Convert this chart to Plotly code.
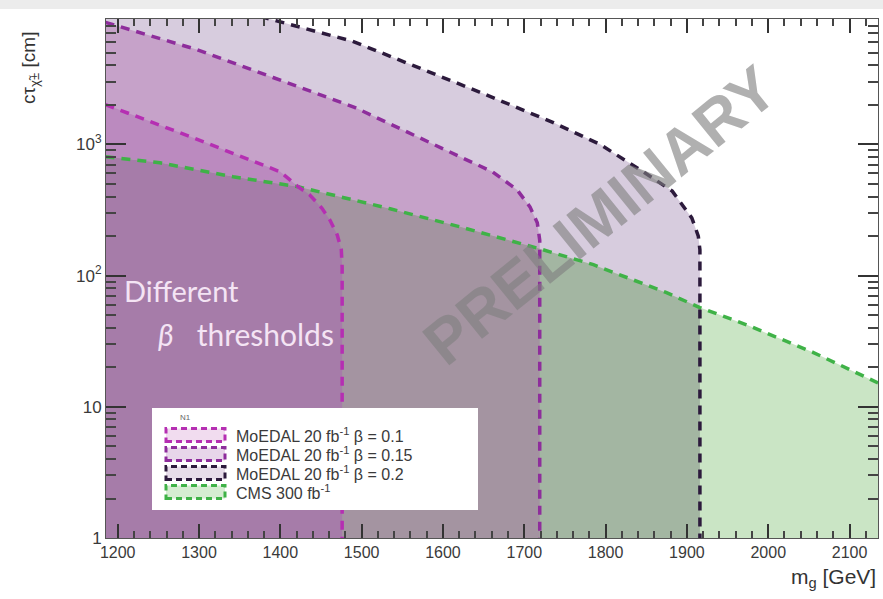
import math
import plotly.graph_objects as go

# ---------------- data ----------------
# MoEDAL beta = 0.2 (outer, dark)
m_b02 = [1185, 1402, 1424, 1489, 1645, 1735, 1793, 1846, 1882, 1906, 1914, 1916, 1916]
v_b02 = [19500, 8500, 7900, 6100, 2500, 1470, 1000, 620, 440, 275, 200, 157, 1]
# MoEDAL beta = 0.15 (middle, purple)
m_b015 = [1185, 1297, 1391, 1492, 1621, 1661, 1691, 1707, 1716, 1719, 1719]
v_b015 = [8500, 5280, 3230, 1905, 804, 617, 451, 334, 252, 186, 1]
# MoEDAL beta = 0.1 (inner, magenta)
m_b01 = [1185, 1289, 1400, 1422, 1436, 1451, 1461, 1470, 1475, 1476, 1476]
v_b01 = [2005, 1145, 617, 475, 412, 327, 265, 204, 157, 116, 1]
# CMS 300 fb-1 (green)
m_cms = [1185, 1252, 1342, 1422, 1473, 1535, 1621, 1719, 1785, 1875, 1916, 1974, 2055, 2135]
v_cms = [805, 723, 566, 475, 399, 323, 235, 160, 121, 74, 57, 42, 26, 15.2]

x_ticks = [1200, 1300, 1400, 1500, 1600, 1700, 1800, 1900, 2000, 2100]
y_ticks = [1, 10, 100, 1000]
y_ticktext = ["1", "10", "10<sup>2</sup>", "10<sup>3</sup>"]
legend_labels = ["MoEDAL 20 fb<sup>-1</sup> β = 0.1", "MoEDAL 20 fb<sup>-1</sup> β = 0.15",
                 "MoEDAL 20 fb<sup>-1</sup> β = 0.2", "CMS 300 fb<sup>-1</sup>"]

X_MIN, X_MAX = 1185.6, 2135
Y_LOG_MAX = 3.955
Y_BASE = 1

# ---------------- styles ----------------
C_LINE_01 = "#b52fb2"
C_LINE_015 = "#8e2d9c"
C_LINE_02 = "#2c1a3c"
C_LINE_CMS = "#3fb247"

F_A = "#d7ccde"      # beta 0.2 only
F_AB = "#c6a2c9"     # beta 0.2 + 0.15
F_ABC = "#bb8abf"    # all three MoEDAL
F_G = "#cae5c5"      # CMS only
F_AG = "#a3b6a2"     # beta0.2 + CMS
F_ABG = "#a494a1"    # beta0.2+0.15 + CMS
F_ABCG = "#a67ca9"   # all

fig = go.Figure()


def region(xs, ys, color):
    xx = list(xs) + [xs[-1], xs[0]]
    yy = list(ys) + [Y_BASE, Y_BASE]
    fig.add_trace(go.Scatter(x=xx, y=yy, mode="lines", fill="toself", fillcolor=color,
                             line=dict(width=0), hoverinfo="skip", showlegend=False))


region(m_b02, v_b02, F_A)
region(m_b015, v_b015, F_AB)
region(m_b01, v_b01, F_ABC)
region(m_cms, v_cms, F_G)
# overlaps with CMS region
ag_m = [m for m in m_cms if m <= m_b02[-1]]
region(ag_m, v_cms[:len(ag_m)], F_AG)
abg_m = [m for m in m_cms if m <= m_b015[-1]]
region(abg_m, v_cms[:len(abg_m)], F_ABG)
cross = 1422
abcg_m = [m for m in m_cms if m <= cross] + [m for m in m_b01 if m > cross]
abcg_v = [v for m, v in zip(m_cms, v_cms) if m <= cross] + [v for m, v in zip(m_b01, v_b01) if m > cross]
region(abcg_m, abcg_v, F_ABCG)

DASH = "9px,7px"
for xs, ys, col in [(m_cms, v_cms, C_LINE_CMS), (m_b02, v_b02, C_LINE_02),
                    (m_b015, v_b015, C_LINE_015), (m_b01, v_b01, C_LINE_01)]:
    fig.add_trace(go.Scatter(x=xs, y=ys, mode="lines", line=dict(color=col, width=3.5, dash=DASH),
                             hoverinfo="skip", showlegend=False))

# ---------------- layout helpers ----------------
L, R, T, B = 106, 878, 19, 538
W_PX, H_PX = R - L, B - T


def px(x):
    return (x - L) / W_PX


def py(y):
    return (B - y) / H_PX


shapes = []
annotations = []

# top grey strip of the page
shapes.append(dict(type="rect", xref="paper", yref="paper", x0=px(0), x1=px(883), y0=py(9), y1=py(0),
                   fillcolor="#ececec", line=dict(width=0), layer="above"))

# manual legend
shapes.append(dict(type="rect", xref="paper", yref="paper", x0=px(152), x1=px(478), y0=py(510), y1=py(408),
                   fillcolor="white", line=dict(width=0), layer="above"))
sw_fill = ["#f1dcef", "#e8d6ea", "#e6dce9", "#d6edd2"]
sw_line = [C_LINE_01, C_LINE_015, C_LINE_02, C_LINE_CMS]
rows = [435, 454, 473, 492]
for c, lab, f, lc in zip(rows, legend_labels, sw_fill, sw_line):
    shapes.append(dict(type="rect", xref="paper", yref="paper", x0=px(166), x1=px(225),
                       y0=py(c + 6.5), y1=py(c - 6.5), fillcolor=f,
                       line=dict(color=lc, width=3, dash="6px,4px"), layer="above"))
    annotations.append(dict(xref="paper", yref="paper", x=px(234), y=py(c), xanchor="left", yanchor="middle",
                            text=lab, showarrow=False,
                            font=dict(family="Liberation Sans, Arial", size=16, color="#3a3a3a")))
annotations.append(dict(xref="paper", yref="paper", x=px(178), y=py(417), xanchor="left", yanchor="middle",
                        text="N1", showarrow=False,
                        font=dict(family="Liberation Sans, Arial", size=8, color="#666")))

# in-plot texts
annotations.append(dict(xref="paper", yref="paper", x=px(122), y=py(290), xanchor="left", yanchor="middle",
                        text="Different", showarrow=False,
                        font=dict(family="Lato", size=29, color="#f4e4f4")))
annotations.append(dict(xref="paper", yref="paper", x=px(156), y=py(334), xanchor="left", yanchor="middle",
                        text="<i>β</i>   thresholds", showarrow=False,
                        font=dict(family="Lato", size=30, color="#f4e4f4")))
annotations.append(dict(xref="paper", yref="paper", x=px(600), y=py(215), xanchor="center", yanchor="middle",
                        text="<b>PRELIMINARY</b>", showarrow=False, textangle=-39,
                        font=dict(family="Liberation Sans, Arial", size=63, color="rgba(128,128,128,0.62)")))

# axis titles
annotations.append(dict(xref="paper", yref="paper", x=px(878), y=py(578), xanchor="right", yanchor="middle",
                        text="m<sub>g</sub> [GeV]", showarrow=False,
                        font=dict(family="Liberation Sans, Arial", size=21, color="#333")))
annotations.append(dict(xref="paper", yref="paper", x=px(30), y=py(68), xanchor="center", yanchor="middle",
                        text="cτ<sub>χ̃±</sub> [cm]", showarrow=False, textangle=-90,
                        font=dict(family="Liberation Sans, Arial", size=19, color="#333")))

minor_y = [k * 10 ** e for e in range(0, 4) for k in range(2, 10) if math.log10(k * 10 ** e) < Y_LOG_MAX]
minor_x = [v for v in range(1200, 2136, 20) if v not in x_ticks]

fig.update_layout(
    width=883, height=599, autosize=False,
    margin=dict(l=L, r=883 - R, t=T, b=599 - B),
    paper_bgcolor="white", plot_bgcolor="white",
    showlegend=False,
    shapes=shapes, annotations=annotations,
    xaxis=dict(range=[X_MIN, X_MAX], tickmode="array", tickvals=x_ticks, ticks="inside", ticklen=14,
               tickwidth=2, tickcolor="#333", showline=True, linecolor="#555", linewidth=1, mirror="ticks",
               showgrid=False, zeroline=False,
               tickfont=dict(family="Liberation Sans, Arial", size=16, color="#3a3a3a"),
               minor=dict(tickmode="array", tickvals=minor_x, ticks="inside", ticklen=7, tickwidth=2,
                          tickcolor="#444", showgrid=False)),
    yaxis=dict(type="log", range=[0, Y_LOG_MAX], tickmode="array", tickvals=y_ticks, ticktext=y_ticktext,
               ticks="inside", ticklen=20, tickwidth=2, tickcolor="#333", showline=True, linecolor="#555",
               linewidth=1, mirror="ticks", showgrid=False, zeroline=False,
               tickfont=dict(family="Liberation Sans, Arial", size=17, color="#3a3a3a"),
               minor=dict(tickmode="array", tickvals=minor_y, ticks="inside", ticklen=10, tickwidth=2,
                          tickcolor="#444", showgrid=False)),
)

fig.write_html("out.html")
